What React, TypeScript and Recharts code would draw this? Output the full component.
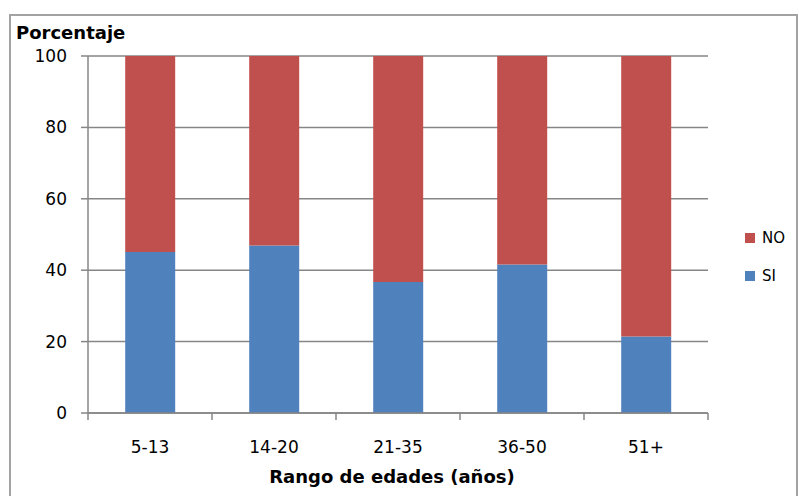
import React from "react";
import { BarChart, Bar, XAxis, YAxis, CartesianGrid } from "recharts";

const categories = ["5-13", "14-20", "21-35", "36-50", "51+"];
const siValues = [45.1, 46.9, 36.7, 41.6, 21.4];
const noValues = [54.9, 53.1, 63.3, 58.4, 78.6];
const yTicks = [0, 20, 40, 60, 80, 100];
const seriesNames = ["NO", "SI"];
const seriesColors = ["#C0504D", "#4F81BD"];
const yTitle = "Porcentaje";
const xTitle = "Rango de edades (años)";

const data = categories.map((c, i) => ({ cat: c, SI: siValues[i], NO: noValues[i] }));

const W = 799;
const H = 496;
const PLOT_LEFT = 88;
const PLOT_RIGHT = 708;
const AXIS_COLOR = "#868686";
const FONT = "'DejaVu Sans', Verdana, sans-serif";

const XTick = (props: any) => {
  const { x, y, payload, index } = props;
  const band = (PLOT_RIGHT - PLOT_LEFT) / categories.length;
  return (
    <g>
      <line x1={x - band / 2} x2={x - band / 2} y1={y} y2={y + 7} stroke={AXIS_COLOR} strokeWidth={1.5} />
      {index === categories.length - 1 && (
        <line x1={x + band / 2} x2={x + band / 2} y1={y} y2={y + 7} stroke={AXIS_COLOR} strokeWidth={1.5} />
      )}
      <text x={x} y={y + 40} textAnchor="middle" fontFamily={FONT} fontSize={17} fill="#000">
        {payload.value}
      </text>
    </g>
  );
};

const XTitle = (props: any) => {
  const vb = props.viewBox;
  return (
    <text x={vb.x + vb.width / 2 - 6} y={483} textAnchor="middle" fontFamily={FONT} fontWeight="bold" fontSize={18} fill="#000">
      {xTitle}
    </text>
  );
};

const YTitle = () => (
  <text x={16} y={39} textAnchor="start" fontFamily={FONT} fontWeight="bold" fontSize={18} fill="#000">
    {yTitle}
  </text>
);

export default function App() {
  return (
    <div style={{ position: "absolute", left: 0, top: 0, width: W, height: H, background: "#fff", overflow: "hidden" }}>
      <div
        style={{
          position: "absolute",
          left: 9,
          top: 14,
          width: 789,
          height: 520,
          boxSizing: "border-box",
          border: "2px solid #a3a3a3",
        }}
      />
      <div style={{ position: "absolute", left: 0, top: 0 }}>
        <BarChart
          width={W}
          height={H}
          data={data}
          margin={{ top: 56, right: W - PLOT_RIGHT, bottom: 53, left: 0 }}
          barCategoryGap="30%"
        >
          <CartesianGrid vertical={false} stroke={AXIS_COLOR} strokeWidth={1.5} />
          <XAxis
            dataKey="cat"
            height={30}
            tickSize={0}
            tickMargin={0}
            tickLine={false}
            axisLine={{ stroke: AXIS_COLOR, strokeWidth: 1.5 }}
            tick={<XTick />}
            interval={0}
            label={<XTitle />}
          />
          <YAxis
            width={PLOT_LEFT}
            domain={[0, 100]}
            ticks={yTicks}
            interval={0}
            tickSize={7}
            tickMargin={14}
            axisLine={{ stroke: AXIS_COLOR, strokeWidth: 1.5 }}
            tickLine={{ stroke: AXIS_COLOR, strokeWidth: 1.5 }}
            tick={{ fontFamily: FONT, fontSize: 17, fill: "#000" }}
            label={<YTitle />}
          />
          <Bar dataKey="SI" stackId="a" fill={seriesColors[1]} isAnimationActive={false} />
          <Bar dataKey="NO" stackId="a" fill={seriesColors[0]} isAnimationActive={false} />
        </BarChart>
      </div>
      {seriesNames.map((name, i) => (
        <div
          key={name}
          style={{
            position: "absolute",
            left: 745,
            top: 229 + i * 38,
            display: "flex",
            alignItems: "center",
            fontFamily: FONT,
            fontSize: 15,
            color: "#000",
            lineHeight: "18px",
          }}
        >
          <span style={{ display: "inline-block", width: 10, height: 10, background: seriesColors[i], marginRight: 7 }} />
          <span>{name}</span>
        </div>
      ))}
    </div>
  );
}
